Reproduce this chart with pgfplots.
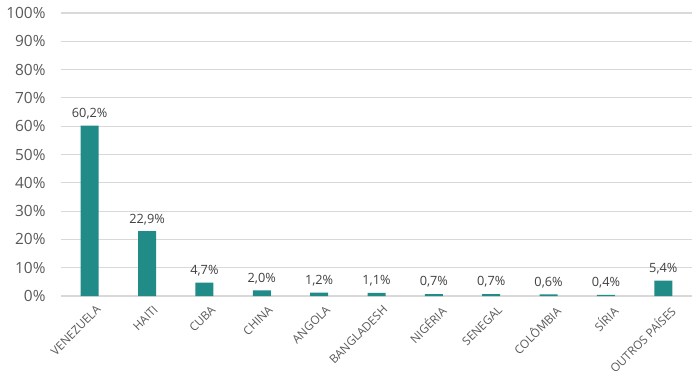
\documentclass[border=0pt]{standalone}
\usepackage{pgfplots}
\pgfplotsset{compat=1.18}
\usepackage{fontspec}
\setmainfont{Open Sans}
\definecolor{barc}{RGB}{33,139,136}
\definecolor{gridc}{RGB}{217,217,217}
\definecolor{tickc}{RGB}{89,89,89}
\definecolor{labc}{RGB}{64,64,64}
\begin{document}
\begin{tikzpicture}
\useasboundingbox (-61bp,-80bp) rectangle (639bp,296bp);
\begin{axis}[
  scale only axis,
  width=631bp, height=283bp,
  xmin=-0.5, xmax=10.5,
  ymin=0, ymax=100,
  ytick={0,10,...,100},
  ymajorgrids,
  grid style={gridc, line width=1.2pt},
  axis line style={draw=none},
  major tick style={draw=none},
  xtick={0,...,10},
  xticklabels={VENEZUELA,HAITI,CUBA,CHINA,ANGOLA,BANGLADESH,NIGÉRIA,SENEGAL,COLÔMBIA,SÍRIA,OUTROS PAÍSES},
  xticklabel style={rotate=45, anchor=north east, font=\fontsize{11.8}{13}\selectfont, text=tickc, inner sep=1pt, yshift=-6bp, xshift=2bp},
  yticklabel={\pgfmathprintnumber{\tick}\%},
  yticklabel style={font=\fontsize{15.5}{17}\selectfont, text=tickc, xshift=-12bp},
  /pgf/number format/assume math mode=true,
  ybar, bar width=18bp,
  nodes near coords={\pgfmathprintnumber[fixed,fixed zerofill,precision=1,use comma]{\pgfplotspointmeta}\%},
  every node near coord/.append style={font=\fontsize{12.8}{14}\selectfont, text=labc, yshift=3bp},
]
\addplot[fill=barc, draw=none] coordinates {
(0,60.2) (1,22.9) (2,4.7) (3,2.0) (4,1.2) (5,1.1) (6,0.7) (7,0.7) (8,0.6) (9,0.4) (10,5.4)};
\end{axis}
\end{tikzpicture}
\end{document}
